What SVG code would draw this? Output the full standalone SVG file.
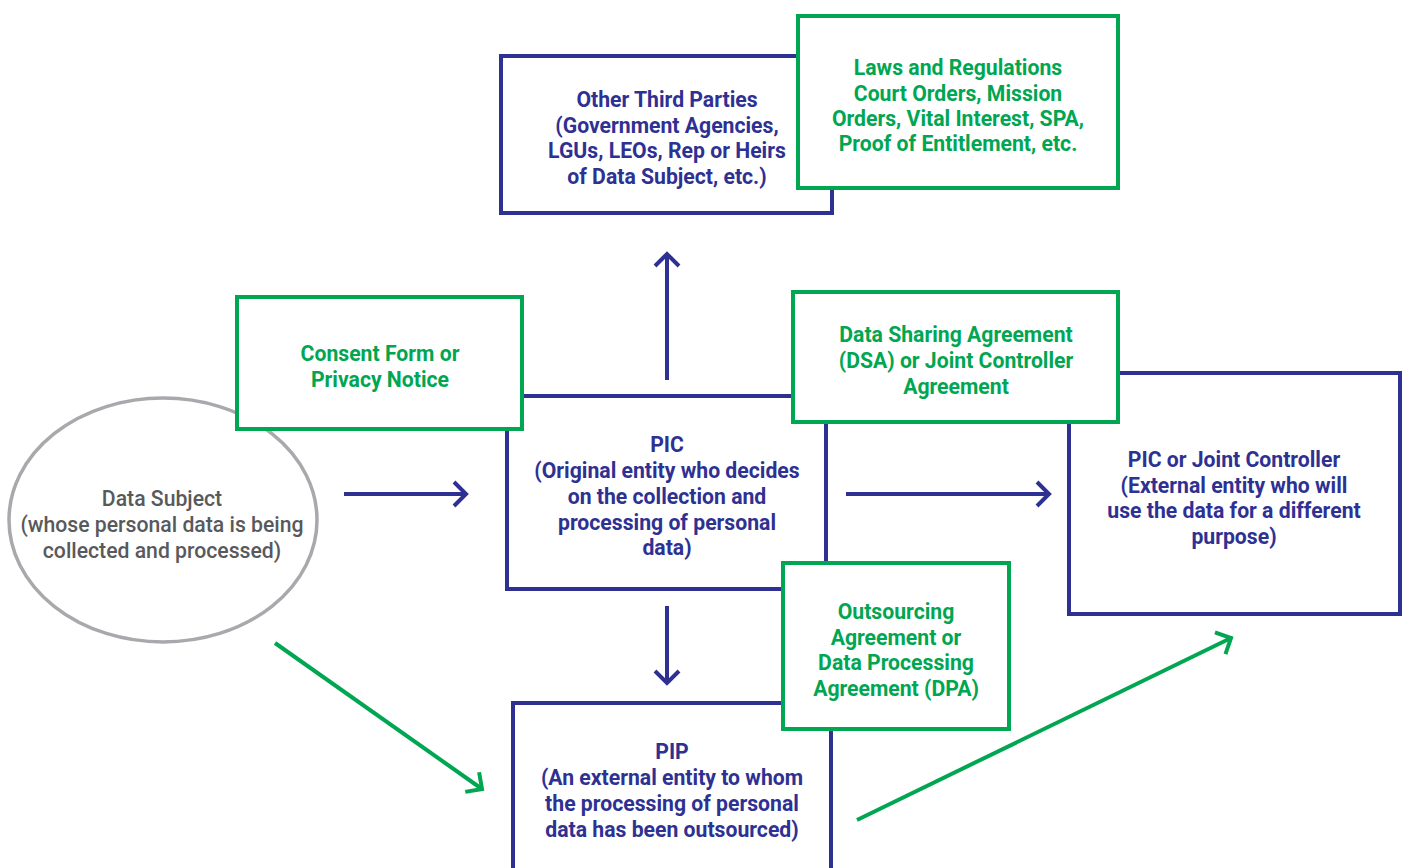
<svg xmlns="http://www.w3.org/2000/svg" width="1407" height="868" viewBox="0 0 1407 868">
<style>
.blue{fill:#fff;stroke:#2e3192;stroke-width:4}
.green{fill:#fff;stroke:#00a651;stroke-width:4}
text{font-family:Roboto,"Liberation Sans",sans-serif;font-size:21.2px;font-weight:bold;text-anchor:middle}
.tb{fill:#2e3192}
.tg{fill:#00a651}
.tgr{fill:#58595b;font-weight:500}
.cb{stroke:#2e3192;stroke-width:4;fill:none}
.cg{stroke:#00a651;stroke-width:4;fill:none}
</style>
<defs>
<marker id="hb" viewBox="-16 -16 20 32" refX="0" refY="0" markerWidth="20" markerHeight="32" markerUnits="userSpaceOnUse" orient="auto">
<path d="M-12,-12 L0,0 L-12,12" fill="none" stroke="#2e3192" stroke-width="4"/>
</marker>
<marker id="hg" viewBox="-16 -16 20 32" refX="0" refY="0" markerWidth="20" markerHeight="32" markerUnits="userSpaceOnUse" orient="auto">
<path d="M-12,-12 L0,0 L-12,12" fill="none" stroke="#00a651" stroke-width="4"/>
</marker>
</defs>
<rect width="1407" height="868" fill="#fff"/>
<g id="connectors">
<line class="cb" x1="344" y1="494" x2="466" y2="494" marker-end="url(#hb)"/>
<line class="cb" x1="667" y1="380" x2="667" y2="254" marker-end="url(#hb)"/>
<line class="cb" x1="667" y1="606" x2="667" y2="683" marker-end="url(#hb)"/>
<line class="cb" x1="846" y1="494" x2="1049" y2="494" marker-end="url(#hb)"/>
<line class="cg" x1="275" y1="643" x2="482" y2="789" marker-end="url(#hg)"/>
<line class="cg" x1="857" y1="820" x2="1231" y2="638" marker-end="url(#hg)"/>
</g>
<g id="data-subject">
<ellipse cx="163" cy="520" rx="154" ry="122" fill="#fff" stroke="#a7a9ac" stroke-width="3.5"/>
<text class="tgr" x="162" y="506">Data Subject</text>
<text class="tgr" x="162" y="532">(whose personal data is being</text>
<text class="tgr" x="162" y="558">collected and processed)</text>
</g>
<g id="other-third-parties">
<rect class="blue" x="501" y="56" width="331" height="157"/>
<text class="tb" x="667" y="107">Other Third Parties</text>
<text class="tb" x="667" y="133">(Government Agencies,</text>
<text class="tb" x="667" y="158">LGUs, LEOs, Rep or Heirs</text>
<text class="tb" x="667" y="184">of Data Subject, etc.)</text>
</g>
<g id="laws">
<rect class="green" x="798" y="16" width="320" height="172"/>
<text class="tg" x="958" y="75">Laws and Regulations</text>
<text class="tg" x="958" y="101">Court Orders, Mission</text>
<text class="tg" x="958" y="126">Orders, Vital Interest, SPA,</text>
<text class="tg" x="958" y="151">Proof of Entitlement, etc.</text>
</g>
<g id="pic">
<rect class="blue" x="507" y="396" width="319" height="193"/>
<text class="tb" x="667" y="452">PIC</text>
<text class="tb" x="667" y="478">(Original entity who decides</text>
<text class="tb" x="667" y="504">on the collection and</text>
<text class="tb" x="667" y="530">processing of personal</text>
<text class="tb" x="667" y="555">data)</text>
</g>
<g id="pic-joint">
<rect class="blue" x="1069" y="373" width="331" height="241"/>
<text class="tb" x="1234" y="467">PIC or Joint Controller</text>
<text class="tb" x="1234" y="493">(External entity who will</text>
<text class="tb" x="1234" y="518">use the data for a different</text>
<text class="tb" x="1234" y="544">purpose)</text>
</g>
<g id="pip">
<rect class="blue" x="513" y="703" width="318" height="175"/>
<text class="tb" x="672" y="759">PIP</text>
<text class="tb" x="672" y="785">(An external entity to whom</text>
<text class="tb" x="672" y="811">the processing of personal</text>
<text class="tb" x="672" y="837">data has been outsourced)</text>
</g>
<g id="consent">
<rect class="green" x="237" y="297" width="285" height="132"/>
<text class="tg" x="380" y="361">Consent Form or</text>
<text class="tg" x="380" y="387">Privacy Notice</text>
</g>
<g id="dsa">
<rect class="green" x="793" y="292" width="325" height="130"/>
<text class="tg" x="956" y="342">Data Sharing Agreement</text>
<text class="tg" x="956" y="368">(DSA) or Joint Controller</text>
<text class="tg" x="956" y="394">Agreement</text>
</g>
<g id="outsourcing">
<rect class="green" x="783" y="563" width="226" height="166"/>
<text class="tg" x="896" y="619">Outsourcing</text>
<text class="tg" x="896" y="645">Agreement or</text>
<text class="tg" x="896" y="670">Data Processing</text>
<text class="tg" x="896" y="696">Agreement (DPA)</text>
</g>
</svg>
